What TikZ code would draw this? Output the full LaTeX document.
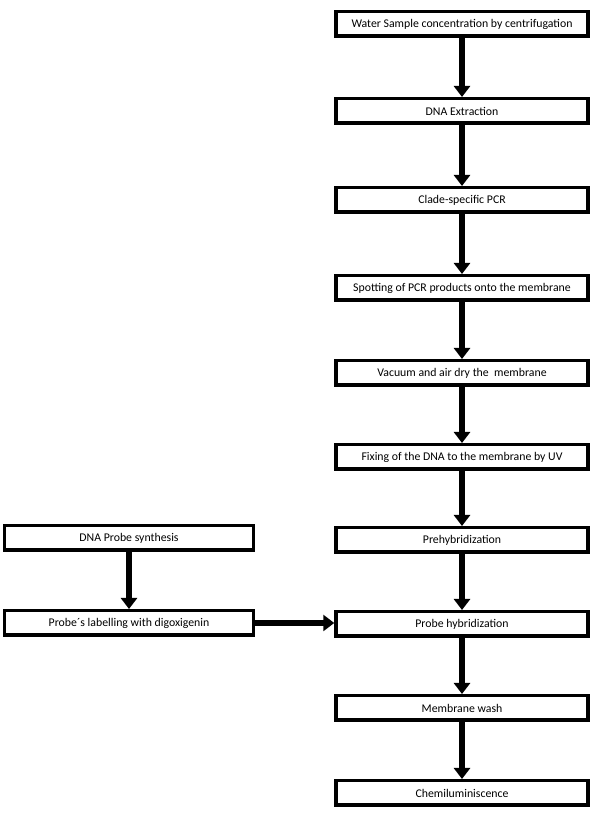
\documentclass[tikz,border=0pt]{standalone}
\usepackage{fontspec}
\setmainfont{Carlito}
\usetikzlibrary{arrows.meta, positioning}

\begin{document}
\begin{tikzpicture}[
    x=1pt, y=1pt, node distance=85pt,
    every node/.style={draw, line width=3.5pt, align=center, font=\fontsize{11.8}{14}\selectfont},
    stepbox/.style={rectangle, minimum width=252pt, minimum height=24.5pt, inner sep=0pt},
    probebox/.style={rectangle, minimum width=249pt, minimum height=24.5pt, inner sep=0pt},
    flow/.style={-{Triangle[width=16pt, length=11pt]}, line width=6pt}
]
\useasboundingbox (0,0) rectangle (593,821);
% main line
\node (water_sample) [stepbox] at (462,797) {Water Sample concentration by centrifugation};
\node (dna_extraction) [stepbox, below of=water_sample, yshift=-2pt] {DNA Extraction};
\node (clade_pcr) [stepbox, below of=dna_extraction, yshift=-4pt] {Clade-specific PCR};
\node (spotting_pcr) [stepbox, below of=clade_pcr, yshift=-3pt] {Spotting of PCR products onto the membrane};
\node (vacuum_dry) [stepbox, below of=spotting_pcr] {Vacuum and air dry the\ \ membrane};
\node (fixing_uv) [stepbox, below of=vacuum_dry, yshift=1pt] {Fixing of the DNA to the membrane by UV};
\node (prehybridization) [stepbox, below of=fixing_uv, yshift=2pt] {Prehybridization};
\node (probe_hybridization) [stepbox, below of=prehybridization, yshift=1pt] {Probe hybridization};
\node (membrane_wash) [stepbox, below of=probe_hybridization, yshift=1pt] {Membrane wash};
\node (chemiluminiscence) [stepbox, below of=membrane_wash] {Chemiluminiscence};
% probe line
\node (probe_synthesis) [probebox] at (129,283) {DNA Probe synthesis};
\node (probe_labelling) [probebox, below of=probe_synthesis] {Probe´s labelling with digoxigenin};
\draw[flow] (water_sample) -- (dna_extraction);
\draw[flow] (dna_extraction) -- (clade_pcr);
\draw[flow] (clade_pcr) -- (spotting_pcr);
\draw[flow] (spotting_pcr) -- (vacuum_dry);
\draw[flow] (vacuum_dry) -- (fixing_uv);
\draw[flow] (fixing_uv) -- (prehybridization);
\draw[flow] (prehybridization) -- (probe_hybridization);
\draw[flow] (probe_hybridization) -- (membrane_wash);
\draw[flow] (membrane_wash) -- (chemiluminiscence);
\draw[flow] (probe_synthesis) -- (probe_labelling);
\draw[flow] (probe_labelling.east) -- (probe_labelling.east -| probe_hybridization.west);
\end{tikzpicture}
\end{document}
